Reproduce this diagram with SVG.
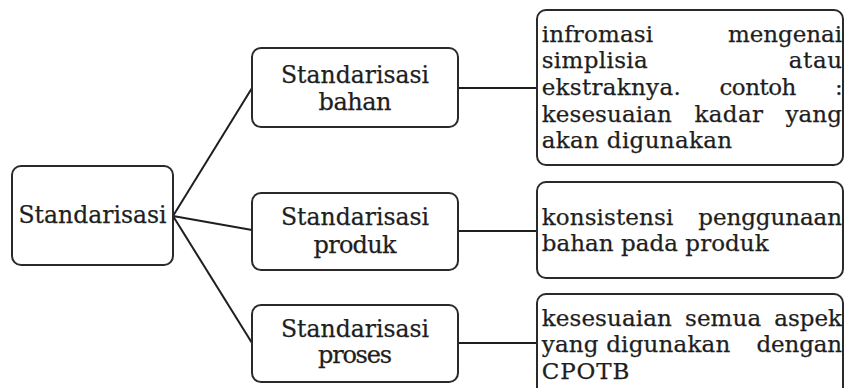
<svg xmlns="http://www.w3.org/2000/svg" width="844" height="388" viewBox="0 0 844 388">
<style>
.box{fill:#fff;stroke:#2a2a2a;stroke-width:2}
.ln{stroke:#1e1e1e;stroke-width:2;fill:none}
text{font-family:"DejaVu Serif","Liberation Serif",serif;font-size:24px;fill:#1e1e1e;stroke:#1e1e1e;stroke-width:0.25}
.c{text-anchor:middle}
.r text{font-size:23px}
</style>
<rect width="844" height="388" fill="#fff"/>
<g id="connectors">
<path class="ln" d="M173,216 L252,88"/>
<path class="ln" d="M173,216 L252,230"/>
<path class="ln" d="M173,216 L252,343"/>
<path class="ln" d="M458,88 L537,88"/>
<path class="ln" d="M458,231 L537,231"/>
<path class="ln" d="M458,343 L537,343"/>
</g>
<g id="root">
<rect class="box" x="12" y="166" width="161" height="99" rx="9"/>
<text class="c" x="92.5" y="223" textLength="148" lengthAdjust="spacingAndGlyphs">Standarisasi</text>
</g>
<g id="bahan">
<rect class="box" x="252" y="48" width="206" height="79" rx="9"/>
<text class="c" x="355" y="83" textLength="148" lengthAdjust="spacingAndGlyphs">Standarisasi</text>
<text class="c" x="355" y="110" textLength="73">bahan</text>
</g>
<g id="produk">
<rect class="box" x="252" y="193" width="206" height="77" rx="9"/>
<text class="c" x="355" y="225" textLength="148" lengthAdjust="spacingAndGlyphs">Standarisasi</text>
<text class="c" x="355" y="252.5" textLength="83">produk</text>
</g>
<g id="proses">
<rect class="box" x="252" y="305" width="206" height="77" rx="9"/>
<text class="c" x="355" y="336.5" textLength="148" lengthAdjust="spacingAndGlyphs">Standarisasi</text>
<text class="c" x="355" y="363" textLength="74">proses</text>
</g>
<g id="info-bahan" class="r">
<rect class="box" x="537" y="10" width="306" height="155" rx="9"/>
<text x="541.7" y="41.7" textLength="111.5">infromasi</text><text x="728" y="41.7" textLength="114">mengenai</text>
<text x="541.7" y="68.3" textLength="106">simplisia</text><text x="788.8" y="68.3" textLength="53.2">atau</text>
<text x="541.7" y="95" textLength="139">ekstraknya.</text><text x="719.4" y="95" textLength="77">contoh</text><text x="835" y="95">:</text>
<text x="541.7" y="121.7" textLength="130.2">kesesuaian</text><text x="694.4" y="121.7" textLength="68.6">kadar</text><text x="785.5" y="121.7" textLength="56.5">yang</text>
<text x="541.7" y="148.3" textLength="190.5">akan digunakan</text>
</g>
<g id="info-produk" class="r">
<rect class="box" x="537" y="182" width="306" height="96" rx="9"/>
<text x="541.7" y="224.5" textLength="131.6">konsistensi</text><text x="698.3" y="224.5" textLength="143.7">penggunaan</text>
<text x="541.7" y="250.5" textLength="226.9">bahan pada produk</text>
</g>
<g id="info-proses" class="r">
<rect class="box" x="537" y="294" width="306" height="110" rx="9"/>
<text x="541.7" y="325.5" textLength="130.2">kesesuaian</text><text x="685" y="325.5" textLength="76.1">semua</text><text x="774.3" y="325.5" textLength="67.7">aspek</text>
<text x="541.7" y="352" textLength="188.6">yang digunakan</text><text x="756.6" y="352" textLength="85.4">dengan</text>
<text x="541.7" y="378.5" textLength="87.7">CPOTB</text>
</g>
</svg>
